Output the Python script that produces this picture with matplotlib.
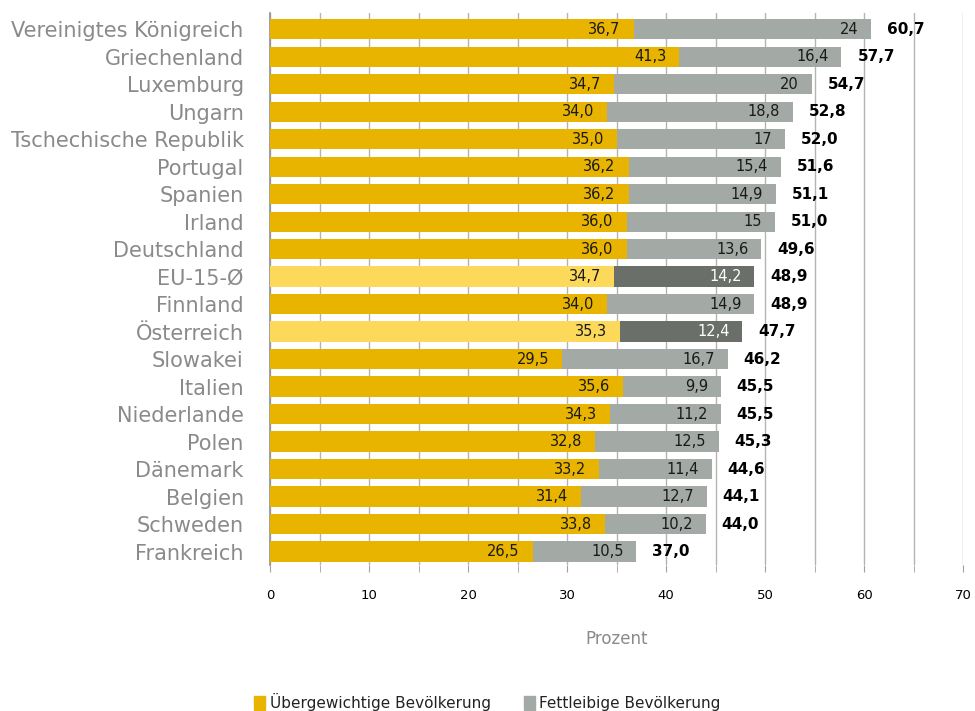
import numpy as np
import matplotlib.pyplot as plt
from matplotlib.patches import Patch

# Data (top to bottom as shown)
countries = ['Vereinigtes Königreich', 'Griechenland', 'Luxemburg', 'Ungarn',
             'Tschechische Republik', 'Portugal', 'Spanien', 'Irland',
             'Deutschland', 'EU-15-Ø', 'Finnland', 'Österreich', 'Slowakei',
             'Italien', 'Niederlande', 'Polen', 'Dänemark', 'Belgien',
             'Schweden', 'Frankreich']
uebergewicht = [36.7, 41.3, 34.7, 34.0, 35.0, 36.2, 36.2, 36.0, 36.0, 34.7,
                34.0, 35.3, 29.5, 35.6, 34.3, 32.8, 33.2, 31.4, 33.8, 26.5]
fettleibig = [24, 16.4, 20, 18.8, 17, 15.4, 14.9, 15, 13.6, 14.2,
              14.9, 12.4, 16.7, 9.9, 11.2, 12.5, 11.4, 12.7, 10.2, 10.5]
gesamt = [60.7, 57.7, 54.7, 52.8, 52.0, 51.6, 51.1, 51.0, 49.6, 48.9,
          48.9, 47.7, 46.2, 45.5, 45.5, 45.3, 44.6, 44.1, 44.0, 37.0]
highlight = ['EU-15-Ø', 'Österreich']

# Colours
c_over = '#E8B400'
c_over_hl = '#FCD95B'
c_obese = '#A3A9A4'
c_obese_hl = '#6A7069'

def fmt(v, drop_zero=False):
    if drop_zero and float(v).is_integer():
        return str(int(v))
    return f'{v:.1f}'.replace('.', ',')

fig = plt.figure(figsize=(9.75, 7.11), dpi=100)
ax = fig.add_axes([0.277, 0.205, 0.711, 0.777])

y = np.arange(len(countries))
h = 0.74
col1 = [c_over_hl if c in highlight else c_over for c in countries]
col2 = [c_obese_hl if c in highlight else c_obese for c in countries]

ax.barh(y, uebergewicht, height=h, color=col1, zorder=3)
ax.barh(y, fettleibig, left=uebergewicht, height=h, color=col2, zorder=3)

pad = 1.3
for i, c in enumerate(countries):
    a, b, t = uebergewicht[i], fettleibig[i], gesamt[i]
    ax.text(a - pad, y[i], fmt(a), ha='right', va='center', fontsize=10.5,
            color='#1a1a1a', zorder=4)
    tc = 'white' if c in highlight else '#1a1a1a'
    ax.text(a + b - pad, y[i], fmt(b, drop_zero=True), ha='right', va='center',
            fontsize=10.5, color=tc, zorder=4)
    ax.text(t + 1.6, y[i], fmt(t), ha='left', va='center', fontsize=11,
            fontweight='bold', color='black', zorder=4)

ax.set_xlim(0, 70)
ax.set_ylim(len(countries) - 0.5, -0.6)
ax.set_yticks(y)
ax.set_yticklabels(countries, fontsize=15, color='#8a8a8a')
ax.tick_params(axis='y', length=0, pad=19)
ax.set_xticks(np.arange(0, 71, 10))
ax.set_xticks(np.arange(0, 71, 5), minor=True)
ax.tick_params(axis='x', which='both', length=5, color='#a0a0a0', pad=12,
               labelsize=9.5)
ax.grid(axis='x', which='both', color='#b4b4b4', lw=1, zorder=0)

for s in ['top', 'right', 'bottom']:
    ax.spines[s].set_visible(False)
ax.spines['left'].set_color('#909090')
ax.spines['left'].set_linewidth(1.2)

ax.set_xlabel('Prozent', fontsize=12, color='#8a8a8a', labelpad=20)

handles = [Patch(color=c_over, label='Übergewichtige Bevölkerung'),
           Patch(color=c_obese, label='Fettleibige Bevölkerung')]
fig.legend(handles=handles, loc='lower center', bbox_to_anchor=(0.5, -0.02),
           ncol=2, frameon=False, fontsize=11, handlelength=0.7,
           handleheight=1.0, handletextpad=0.3, columnspacing=2.2,
           labelcolor='#222222')

fig.savefig('out.png', dpi=100)
